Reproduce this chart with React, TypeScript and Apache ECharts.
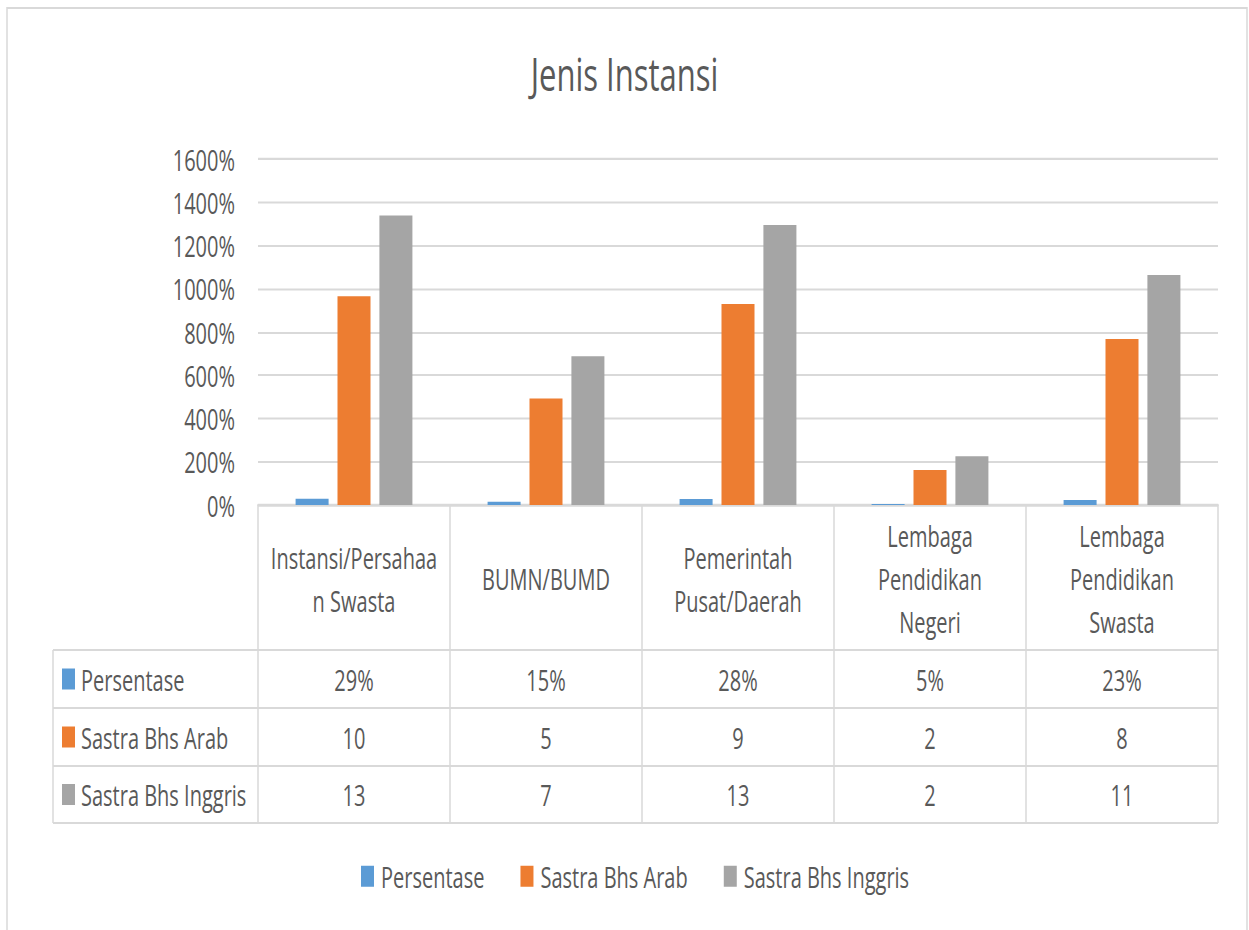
import React, { useEffect, useRef } from "react";
import * as echarts from "echarts";

const categories = [
  "Instansi/Persahaan Swasta",
  "BUMN/BUMD",
  "Pemerintah Pusat/Daerah",
  "Lembaga Pendidikan Negeri",
  "Lembaga Pendidikan Swasta",
];
const categoryLabels = [
  "Instansi/Persahaa\nn Swasta",
  "BUMN/BUMD",
  "Pemerintah\nPusat/Daerah",
  "Lembaga\nPendidikan\nNegeri",
  "Lembaga\nPendidikan\nSwasta",
];
const seriesNames = ["Persentase", "Sastra Bhs Arab", "Sastra Bhs Inggris"];
const persentase = [0.29, 0.15, 0.28, 0.05, 0.23];
const sastraArab = [9.65, 4.93, 9.29, 1.62, 7.68];
const sastraInggris = [13.39, 6.88, 12.95, 2.26, 10.64];
const yTicks = [0, 2, 4, 6, 8, 10, 12, 14, 16];

const COLORS = ["#5B9BD5", "#ED7D31", "#A5A5A5"];
const TEXT = "#595959";
const LINE = "#d9d9d9";
const FONT = "'Open Sans', 'Noto Sans', sans-serif";

const W = 1249;
const H = 641;
const S = 930 / H;
const r = (y: number) => y / S; // reference y -> chart y

export default function App() {
  const ref = useRef<HTMLDivElement>(null);

  useEffect(() => {
    document.body.style.margin = "0";
    if (!ref.current) return;
    const chart = echarts.init(ref.current, undefined, { renderer: "svg" });
    const seriesData = [persentase, sastraArab, sastraInggris];

    chart.setOption({
      animation: false,
      backgroundColor: "#ffffff",
      textStyle: { fontFamily: FONT, color: TEXT },
      title: {
        text: "Jenis Instansi",
        left: "center",
        top: r(51),
        padding: 0,
        textStyle: { fontFamily: FONT, fontSize: 31, fontWeight: "normal", color: TEXT },
      },
      legend: {
        data: seriesNames,
        left: 356,
        top: r(869) - 10,
        itemWidth: 13,
        itemHeight: r(21),
        itemGap: 36,
        icon: "rect",
        textStyle: { fontFamily: FONT, fontSize: 20, color: TEXT, padding: [0, 0, 0, 2] },
      },
      grid: {
        left: 258,
        right: W - 1218,
        top: r(159),
        bottom: H - r(505),
        containLabel: false,
      },
      xAxis: {
        type: "category",
        data: categories,
        axisLine: { show: true, lineStyle: { color: LINE, width: 1.5 } },
        axisTick: { show: false },
        axisLabel: {
          interval: 0,
          margin: r(578.5) - r(505),
          verticalAlign: "middle",
          lineHeight: r(43),
          fontFamily: FONT,
          fontSize: 20,
          color: TEXT,
          formatter: (_v: string, i: number) => categoryLabels[i],
        },
      },
      yAxis: {
        type: "value",
        min: yTicks[0],
        max: yTicks[yTicks.length - 1],
        interval: yTicks[1] - yTicks[0],
        axisLine: { show: false },
        axisTick: { show: false },
        splitLine: { lineStyle: { color: LINE, width: 1.4 } },
        axisLabel: {
          margin: 23,
          fontFamily: FONT,
          fontSize: 20,
          color: TEXT,
          formatter: (v: number) => `${Math.round(v * 100)}%`,
        },
      },
      series: seriesNames.map((name, k) => ({
        name,
        type: "bar",
        data: seriesData[k],
        barWidth: 33,
        barGap: "27%",
        itemStyle: { color: COLORS[k] },
      })),
    });

    // data table under the plot
    const cx = categories.map((_, i) => chart.convertToPixel({ xAxisIndex: 0 }, i) as number);
    const band = cx.length > 1 ? cx[1] - cx[0] : 192;
    const xL = cx[0] - band / 2;
    const xR = cx[cx.length - 1] + band / 2;
    const yTop = chart.convertToPixel({ yAxisIndex: 0 }, 0) as number;
    const rowY = [r(650), r(708), r(766), r(823)];
    const tableLeft = 53;
    const lineStyle = { stroke: LINE, lineWidth: 1.5 };
    const elements: any[] = [];

    // frame
    elements.push({
      type: "rect",
      shape: { x: 7, y: r(8), width: 1240, height: H + 20 },
      style: { fill: "none", stroke: LINE, lineWidth: 1.5 },
      silent: true,
    });
    // horizontal table lines
    rowY.forEach((y) => {
      elements.push({ type: "line", shape: { x1: tableLeft, y1: y, x2: xR, y2: y }, style: lineStyle, silent: true });
    });
    // vertical lines
    elements.push({
      type: "line",
      shape: { x1: tableLeft, y1: rowY[0], x2: tableLeft, y2: rowY[3] },
      style: lineStyle,
      silent: true,
    });
    for (let i = 0; i <= cx.length; i++) {
      const x = xL + i * band;
      elements.push({ type: "line", shape: { x1: x, y1: yTop, x2: x, y2: rowY[3] }, style: lineStyle, silent: true });
    }
    // rows
    const cellText = [
      persentase.map((v) => `${Math.round(v * 100)}%`),
      sastraArab.map((v) => `${Math.round(v)}`),
      sastraInggris.map((v) => `${Math.round(v)}`),
    ];
    seriesNames.forEach((name, k) => {
      const cy = (rowY[k] + rowY[k + 1]) / 2;
      const kh = r(21);
      elements.push({
        type: "rect",
        shape: { x: 62, y: cy - kh / 2, width: 13, height: kh },
        style: { fill: COLORS[k] },
        silent: true,
      });
      elements.push({
        type: "text",
        x: 81,
        y: cy,
        style: { text: name, fill: TEXT, font: `20px ${FONT}`, textAlign: "left", textVerticalAlign: "middle" },
        silent: true,
      });
      cellText[k].forEach((t, i) => {
        elements.push({
          type: "text",
          x: cx[i],
          y: cy,
          style: { text: t, fill: TEXT, font: `20px ${FONT}`, textAlign: "center", textVerticalAlign: "middle" },
          silent: true,
        });
      });
    });

    chart.setOption({ graphic: { elements } });

    return () => chart.dispose();
  }, []);

  return (
    <div style={{ width: W, height: 930, overflow: "hidden", position: "relative", background: "#fff" }}>
      <div
        ref={ref}
        style={{ width: W, height: H, transform: `scaleY(${S})`, transformOrigin: "0 0" }}
      />
    </div>
  );
}
